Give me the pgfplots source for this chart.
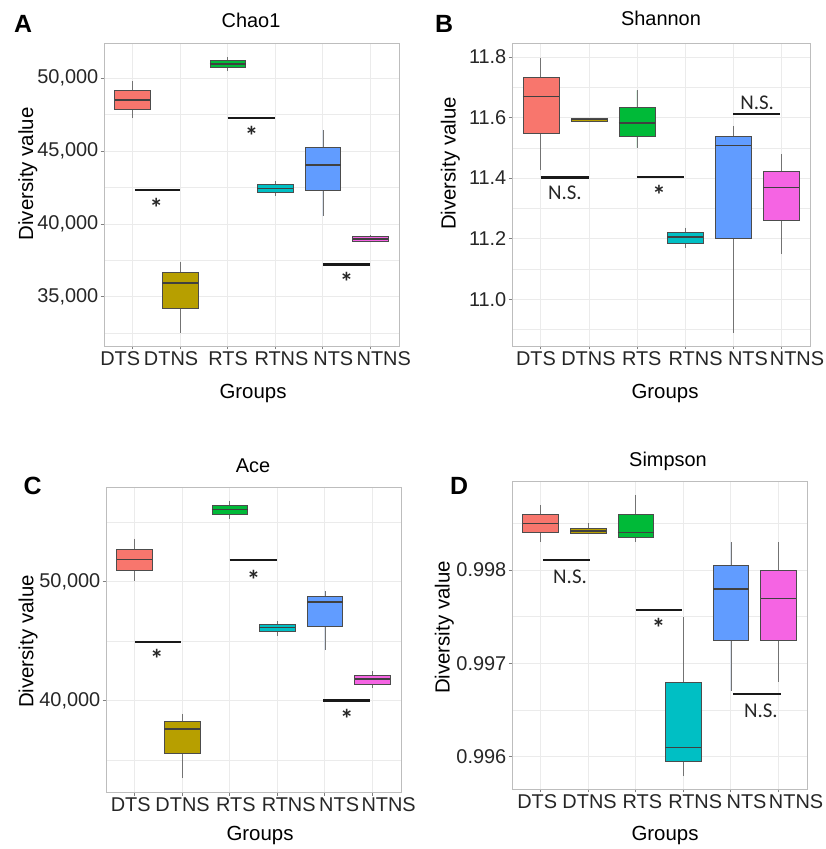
\documentclass[border=0pt]{standalone}
\usepackage{fontspec}
\setmainfont{Liberation Sans}
\newfontfamily\calfont{Carlito}
\usepackage{pgfplots}
\usepgfplotslibrary{statistics}
\pgfplotsset{compat=1.18}
\definecolor{c1}{HTML}{F8766D}
\definecolor{c2}{HTML}{B79F00}
\definecolor{c3}{HTML}{00BA38}
\definecolor{c4}{HTML}{00BFC4}
\definecolor{c5}{HTML}{619CFF}
\definecolor{c6}{HTML}{F564E3}
\definecolor{gridc}{HTML}{EBEBEB}
\definecolor{framec}{HTML}{BDBDBD}
\pgfplotsset{
 gg/.style={
  scale only axis, xmin=0.4, xmax=6.6,
  xtick={1,2,3,4,5,6}, xticklabel={\relax},
  extra x tick labels={DTS,DTNS,RTS,RTNS,NTS,NTNS},
  extra x tick style={major tick length=0pt, grid=none,
     xticklabel style={inner sep=5bp}},
  axis line style={framec, line width=0.8bp},
  tick style={gray, line width=0.8bp},
  tick align=outside, tick pos=left, major tick length=3.5bp, minor tick length=0pt,
  xmajorgrids, ymajorgrids, yminorgrids,
  major grid style={gridc, line width=0.8bp},
  minor grid style={gridc, line width=0.5bp},
  ticklabel style={font=\fontsize{20}{23}\selectfont, text=black!85},
  yticklabel style={inner sep=2bp},
  /pgf/number format/assume math mode=true,
  scaled y ticks=false,
  boxplot/draw direction=y,
  boxplot/every median/.style={line width=1.6bp, draw=black!75},
  boxplot/every whisker/.style={draw=black!55, line width=0.7bp},
 },
 sig/.style={black!90, line width=2.1bp},
}
\newcommand{\bx}[7]{\addplot[draw=black!70, line width=0.6bp, fill=#7,
  boxplot prepared={draw position=#1, lower whisker=#2, lower quartile=#3,
  median=#4, upper quartile=#5, upper whisker=#6, box extend=0.75, whisker extend=0}]
  coordinates {};}
\newcommand{\sigast}[2]{\node[anchor=north, inner sep=0pt, font=\calfont\bfseries\fontsize{27}{30}\selectfont, text=black!85] at (axis cs:#1,#2) {*};}
\newcommand{\signs}[2]{\node[anchor=center, inner sep=0pt, font=\calfont\fontsize{21}{24}\selectfont, text=black!85] at (axis cs:#1,#2) {N.S.};}
\begin{document}
\begin{tikzpicture}
\path[use as bounding box] (0,0) rectangle (826bp,849bp);
% ---------------- A: Chao1
\begin{axis}[gg, at={(104bp,503bp)}, anchor=south west, width=295bp, height=303bp,
  extra x ticks={0.74,1.81,3.01,4.13,5.22,6.28},
  ymin=31630, ymax=52407, ytick={35000,40000,45000,50000},
  minor ytick={32500,37500,42500,47500},
  yticklabel style={/pgf/number format/.cd, fixed, 1000 sep={,}}]
\bx{1}{47250}{47890}{48510}{49150}{49817}{c1}
\bx{2}{32550}{34240}{35960}{36695}{37405}{c2}
\bx{3}{50500}{50755}{50985}{51210}{51440}{c3}
\bx{4}{41940}{42170}{42420}{42720}{42950}{c4}
\bx{5}{40540}{42280}{44050}{45260}{46450}{c5}
\bx{6}{38730}{38825}{38985}{39120}{39210}{c6}
\addplot[sig] coordinates {(1.05,42330) (2,42330)};
\addplot[sig] coordinates {(3,47250) (4,47250)};
\addplot[sig] coordinates {(5,37220) (6,37220)};
\sigast{1.5}{41756}
\sigast{3.5}{46680}
\sigast{5.5}{36718}
\end{axis}
% ---------------- B: Shannon
\begin{axis}[gg, at={(512bp,503bp)}, anchor=south west, width=298bp, height=303bp,
  extra x ticks={0.9,1.99,3.1,4.22,5.31,6.33},
  ymin=10.846, ymax=11.846, ytick={11.0,11.2,11.4,11.6,11.8},
  minor ytick={10.9,11.1,11.3,11.5,11.7},
  yticklabel style={/pgf/number format/.cd, fixed, fixed zerofill, precision=1}]
\bx{1}{11.428}{11.549}{11.670}{11.734}{11.798}{c1}
\bx{2}{11.586}{11.589}{11.593}{11.596}{11.598}{c2}
\bx{3}{11.501}{11.538}{11.582}{11.633}{11.690}{c3}
\bx{4}{11.171}{11.186}{11.206}{11.221}{11.237}{c4}
\bx{5}{10.890}{11.200}{11.508}{11.538}{11.571}{c5}
\bx{6}{11.149}{11.261}{11.369}{11.424}{11.479}{c6}
\addplot[sig] coordinates {(1,11.402) (2,11.402)};
\addplot[sig] coordinates {(3,11.404) (3.97,11.404)};
\addplot[sig] coordinates {(5,11.611) (5.97,11.611)};
\signs{1.5}{11.350}
\sigast{3.46}{11.3765}
\signs{5.5}{11.647}
\end{axis}
% ---------------- C: Ace
\begin{axis}[gg, at={(106bp,57bp)}, anchor=south west, width=295bp, height=305bp,
  extra x ticks={0.92,2.01,3.13,4.24,5.3,6.34},
  ymin=32297, ymax=57983, ytick={40000,50000},
  minor ytick={35000,45000,55000},
  yticklabel style={/pgf/number format/.cd, fixed, 1000 sep={,}}]
\bx{1}{50056}{50980}{51877}{52745}{53641}{c1}
\bx{2}{33474}{35574}{37591}{38235}{38880}{c2}
\bx{3}{55322}{55658}{56078}{56414}{56806}{c3}
\bx{4}{45434}{45799}{46135}{46415}{46695}{c4}
\bx{5}{44258}{46275}{48319}{48796}{49216}{c5}
\bx{6}{41037}{41373}{41793}{42157}{42521}{c6}
\addplot[sig] coordinates {(1,44958) (1.98,44958)};
\addplot[sig] coordinates {(3,51821) (4,51821)};
\addplot[sig] coordinates {(4.97,40000) (5.95,40000)};
\sigast{1.47}{44314}
\sigast{3.5}{50980}
\sigast{5.46}{39272}
\end{axis}
% ---------------- D: Simpson
\begin{axis}[gg, at={(512bp,60bp)}, anchor=south west, width=295bp, height=308bp,
  extra x ticks={0.93,2.03,3.14,4.25,5.33,6.37},
  ymin=0.995654, ymax=0.998954, ytick={0.996,0.997,0.998},
  minor ytick={0.9965,0.9975,0.9985},
  yticklabel style={/pgf/number format/.cd, fixed, fixed zerofill, precision=3}]
\bx{1}{0.998304}{0.998400}{0.998500}{0.998596}{0.998696}{c1}
\bx{2}{0.998386}{0.998393}{0.998418}{0.998446}{0.998500}{c2}
\bx{3}{0.998304}{0.998350}{0.998404}{0.998596}{0.998804}{c3}
\bx{4}{0.995793}{0.995946}{0.996100}{0.996796}{0.997493}{c4}
\bx{5}{0.996704}{0.997250}{0.997796}{0.998046}{0.998296}{c5}
\bx{6}{0.996804}{0.997250}{0.997696}{0.997993}{0.998296}{c6}
\addplot[sig] coordinates {(1.05,0.998107) (2.04,0.998107)};
\addplot[sig] coordinates {(3,0.997571) (3.98,0.997571)};
\addplot[sig] coordinates {(5.05,0.996671) (6.05,0.996671)};
\signs{1.62}{0.997929}
\sigast{3.48}{0.997482}
\signs{5.63}{0.996493}
\end{axis}
% ---------------- titles, labels, panel letters
\begin{scope}[every node/.style={inner sep=0pt}]
\node[anchor=base, font=\fontsize{20}{24}\selectfont] at (251bp,821.7bp) {Chao1};
\node[anchor=base, font=\fontsize{20}{24}\selectfont] at (661bp,823bp) {Shannon};
\node[anchor=base, font=\fontsize{20}{24}\selectfont] at (253bp,376.3bp) {Ace};
\node[anchor=base, font=\fontsize{20}{24}\selectfont] at (668bp,382.3bp) {Simpson};
\node[anchor=base, font=\bfseries\fontsize{25}{30}\selectfont] at (23bp,816bp) {A};
\node[anchor=base, font=\bfseries\fontsize{25}{30}\selectfont] at (444bp,816bp) {B};
\node[anchor=base, font=\bfseries\fontsize{25}{30}\selectfont] at (32.5bp,354bp) {C};
\node[anchor=base, font=\bfseries\fontsize{25}{30}\selectfont] at (459bp,354bp) {D};
\node[anchor=base, rotate=90, font=\fontsize{20.5}{24}\selectfont] at (33bp,675bp) {Diversity value};
\node[anchor=base, rotate=90, font=\fontsize{20.5}{24}\selectfont] at (455.7bp,685.5bp) {Diversity value};
\node[anchor=base, rotate=90, font=\fontsize{20.5}{24}\selectfont] at (33.3bp,207.5bp) {Diversity value};
\node[anchor=base, rotate=90, font=\fontsize{20.5}{24}\selectfont] at (449.7bp,221.5bp) {Diversity value};
\node[anchor=base, font=\fontsize{20.5}{24}\selectfont] at (253bp,450bp) {Groups};
\node[anchor=base, font=\fontsize{20.5}{24}\selectfont] at (665bp,450bp) {Groups};
\node[anchor=base, font=\fontsize{20.5}{24}\selectfont] at (260bp,8.3bp) {Groups};
\node[anchor=base, font=\fontsize{20.5}{24}\selectfont] at (665bp,9bp) {Groups};
\end{scope}
\end{tikzpicture}
\end{document}
